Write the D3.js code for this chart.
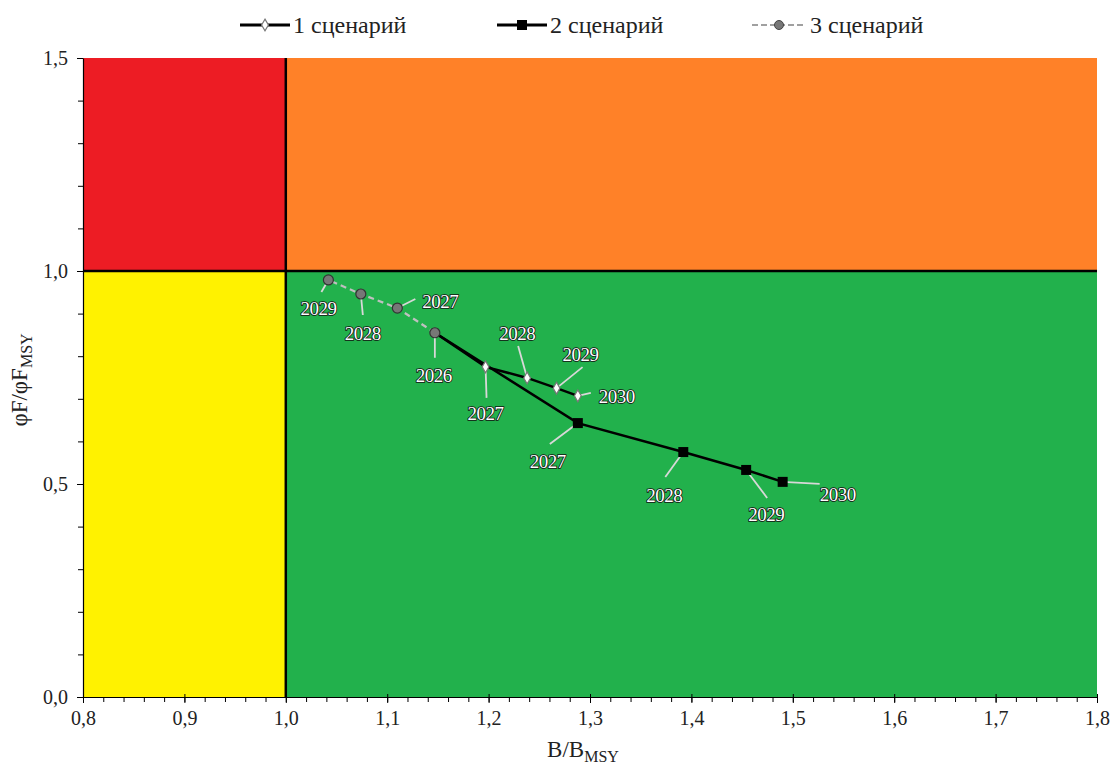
<!DOCTYPE html>
<html><head><meta charset="utf-8">
<script src="https://cdn.jsdelivr.net/npm/d3@7"></script>
<style>body{margin:0;background:#fff;} svg text{font-family:"Liberation Serif","DejaVu Serif",serif !important;}</style>
</head><body><svg id="c" width="1112" height="765"></svg>
<script>
const years = [2026, 2027, 2028, 2029, 2030];
const s1B = [1.147, 1.197, 1.238, 1.267, 1.288];
const s1F = [0.855, 0.775, 0.749, 0.725, 0.707];
const s2B = [1.147, 1.288, 1.392, 1.454, 1.490];
const s2F = [0.855, 0.643, 0.575, 0.533, 0.505];
const s3B = [1.147, 1.110, 1.074, 1.042];
const s3F = [0.855, 0.913, 0.946, 0.979];
const seriesNames = ["1 сценарий", "2 сценарий", "3 сценарий"];
const xTicks = [0.8, 0.9, 1.0, 1.1, 1.2, 1.3, 1.4, 1.5, 1.6, 1.7, 1.8];
const yTicks = [0.0, 0.5, 1.0, 1.5];
// label placement (pixel offsets from point): [dx to leader end, dy, label dx, label dy]
const s1Lab = [null, [1,31,0,46], [-9,-32,-10,-45], [26,-21,24,-34], [13,-3,39,0]];
const s2Lab = [null, [-28,21,-30,38], [-18,25,-19,43], [21,28,20,44], [37,2,55,12]];
const s3Lab = [[0,25,-1,42], [18,-9,43,-7], [2,21,2,39], [-7,12,-10,28]];

const svg = d3.select("#c");
const m = {l:83, r:1097, t:58, b:697};
const x = d3.scaleLinear().domain([0.8,1.8]).range([m.l,m.r]);
const y = d3.scaleLinear().domain([0,1.5]).range([m.b,m.t]);
const fmt = d => d.toFixed(1).replace(".", ",");
const SERIF = '"Liberation Serif","DejaVu Serif",serif';

// zones
const zones = [[0.8,1.0,1.0,1.5,"#ED1C24"],[1.0,1.8,1.0,1.5,"#FF8128"],[0.8,1.0,0,1.0,"#FFF200"],[1.0,1.8,0,1.0,"#22B14C"]];
svg.selectAll("rect.z").data(zones).join("rect")
  .attr("x",d=>x(d[0])).attr("width",d=>x(d[1])-x(d[0]))
  .attr("y",d=>y(d[3])).attr("height",d=>y(d[2])-y(d[3])).attr("fill",d=>d[4]);
svg.append("line").attr("x1",x(0.8)).attr("x2",x(1.8)).attr("y1",y(1)).attr("y2",y(1)).attr("stroke","#000").attr("stroke-width",2.5);
svg.append("line").attr("x1",x(1)).attr("x2",x(1)).attr("y1",y(0)).attr("y2",y(1.5)).attr("stroke","#000").attr("stroke-width",2.5);

// axes
const xa = svg.append("g").attr("transform",`translate(0,${m.b})`)
  .call(d3.axisBottom(x).tickValues(xTicks).tickFormat(fmt).tickSize(6).tickSizeOuter(0));
svg.append("g").attr("transform",`translate(0,${m.b})`)
  .call(d3.axisBottom(x).tickValues(d3.range(0.8,1.8001,0.02)).tickFormat("").tickSize(5).tickSizeOuter(0))
  .call(g=>g.select(".domain").remove());
xa.selectAll(".tick line").attr("y1",-3);
const ya = svg.append("g").attr("transform",`translate(${m.l},0)`)
  .call(d3.axisLeft(y).tickValues(yTicks).tickFormat(fmt).tickSize(6).tickSizeOuter(0));
svg.append("g").attr("transform",`translate(${m.l},0)`)
  .call(d3.axisLeft(y).tickValues(d3.range(0,1.5001,0.1)).tickFormat("").tickSize(5).tickSizeOuter(0))
  .call(g=>g.select(".domain").remove());
[xa, ya].forEach(a=>{a.attr("font-family",SERIF);
  a.selectAll("text").attr("font-size",20).attr("fill","#222");
  a.select(".domain").attr("stroke","#000").attr("stroke-width",1.2);});
xa.selectAll("text").attr("dy","0.95em");
ya.selectAll("text").attr("dx","-0.3em");

// axis titles
const xt = svg.append("text").attr("x",583).attr("y",757).attr("text-anchor","middle").attr("font-size",23).attr("fill","#222");
xt.append("tspan").text("B/B");
xt.append("tspan").attr("font-size",16).attr("dy",5).text("MSY");
const yt = svg.append("text").attr("transform","translate(27,380) rotate(-90)").attr("text-anchor","middle").attr("font-size",23).attr("fill","#222");
yt.append("tspan").text("φF/φF");
yt.append("tspan").attr("font-size",16).attr("dy",5).text("MSY");

const line = d3.line().x(d=>x(d[0])).y(d=>y(d[1]));
const s1 = s1B.map((b,i)=>[b,s1F[i]]), s2 = s2B.map((b,i)=>[b,s2F[i]]), s3 = s3B.map((b,i)=>[b,s3F[i]]);
svg.append("path").attr("d",line(s3)).attr("fill","none").attr("stroke","#C0C0C0").attr("stroke-width",2.2).attr("stroke-dasharray","6,4");
svg.append("path").attr("d",line(s2)).attr("fill","none").attr("stroke","#000").attr("stroke-width",2.5);
svg.append("path").attr("d",line(s1)).attr("fill","none").attr("stroke","#000").attr("stroke-width",2.5);

// leaders + labels
function labels(pts, labs, yrs){
  pts.forEach((p,i)=>{
    const L = labs[i]; if(!L) return;
    const px=x(p[0]), py=y(p[1]);
    svg.append("line").attr("x1",px).attr("y1",py).attr("x2",px+L[0]).attr("y2",py+L[1]).attr("stroke","#D8D8D8").attr("stroke-width",1.8);
    svg.append("text").attr("x",px+L[2]).attr("y",py+L[3]+7).attr("text-anchor","middle").attr("font-size",19)
      .attr("fill","#fff").attr("stroke","#111").attr("stroke-width",1.6).attr("paint-order","stroke").attr("letter-spacing","-0.5").text(yrs[i]);
  });
}
labels(s3, s3Lab, years);
labels(s1, s1Lab, years);
labels(s2, s2Lab, years);

// markers
const diamond = d3.symbol().type(d3.symbolDiamond).size(40);
svg.selectAll("path.m1").data(s1.slice(1)).join("path").attr("d",diamond)
  .attr("transform",d=>`translate(${x(d[0])},${y(d[1])})`).attr("fill","#fff").attr("stroke","#777").attr("stroke-width",1.2);
svg.selectAll("rect.m2").data(s2.slice(1)).join("rect")
  .attr("x",d=>x(d[0])-5).attr("y",d=>y(d[1])-5).attr("width",10).attr("height",10).attr("fill","#000");
svg.selectAll("circle.m3").data(s3).join("circle")
  .attr("cx",d=>x(d[0])).attr("cy",d=>y(d[1])).attr("r",5).attr("fill","#777").attr("stroke","#333").attr("stroke-width",1.2);

// legend
const leg = [[240,seriesNames[0]],[497,seriesNames[1]],[752,seriesNames[2]]];
leg.forEach((l,i)=>{
  const g = svg.append("g");
  const ly = 25;
  g.append("line").attr("x1",l[0]).attr("x2",l[0]+(i==2?54:50)).attr("y1",ly).attr("y2",ly)
    .attr("stroke",i==2?"#A0A0A0":"#000").attr("stroke-width",i==2?2:3).attr("stroke-dasharray",i==2?"6,3":null);
  if(i==0) g.append("path").attr("d",diamond).attr("transform",`translate(${l[0]+25},${ly})`).attr("fill","#fff").attr("stroke","#777").attr("stroke-width",1.2);
  if(i==1) g.append("rect").attr("x",l[0]+20).attr("y",ly-5).attr("width",10).attr("height",10).attr("fill","#000");
  if(i==2) g.append("circle").attr("cx",l[0]+27).attr("cy",ly).attr("r",4.5).attr("fill","#777").attr("stroke","#444");
  g.append("text").attr("x",l[0]+(i==2?58:53)).attr("y",ly+8).attr("font-size",24).attr("fill","#222").text(l[1]);
});
</script></body></html>
